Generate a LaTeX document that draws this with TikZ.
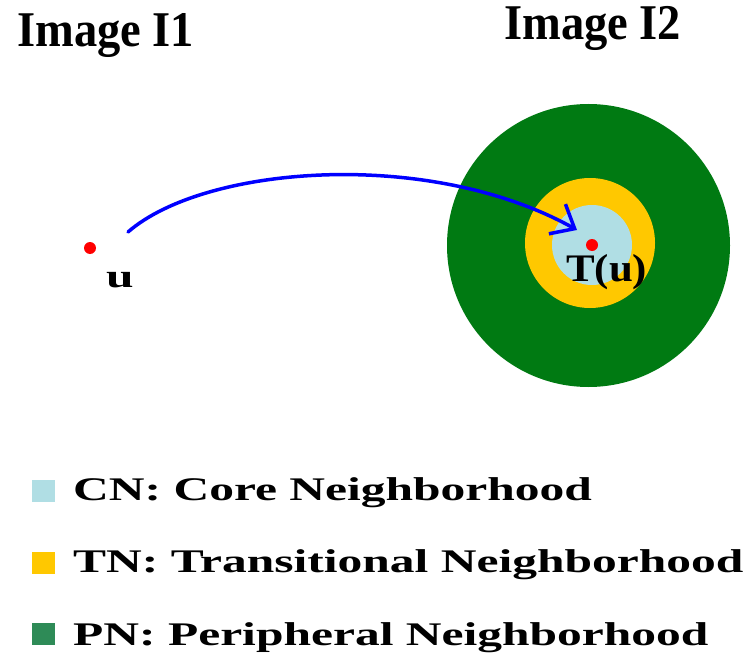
\documentclass[tikz,border=0pt]{standalone}
\usepackage{fontspec}
\setmainfont{Liberation Serif}
\newfontfamily\titlefont[FakeStretch=0.93]{Liberation Serif}
\newfontfamily\legfont[FakeStretch=1.5]{Liberation Serif}
\newfontfamily\tufont[FakeStretch=1.1]{Liberation Serif}
\usetikzlibrary{arrows.meta}
\definecolor{pngreen}{RGB}{0,122,18}
\definecolor{tnyellow}{RGB}{255,200,0}
\definecolor{cnblue}{RGB}{176,222,228}
\definecolor{leggreen}{RGB}{46,139,87}
\definecolor{arrowblue}{RGB}{0,0,255}
\begin{document}
\begin{tikzpicture}[x=1pt,y=-1pt,
  title/.style={anchor=base west,inner sep=0pt,font=\titlefont\bfseries\fontsize{50}{56}\selectfont},
  legtext/.style={anchor=base west,inner sep=0pt,font=\legfont\bfseries\fontsize{33}{38}\selectfont},
  legsq/.style={minimum width=23pt,minimum height=22pt,inner sep=0pt,anchor=north west},
  reddot/.style={circle,fill=red,minimum size=12pt,inner sep=0pt},
  maparrow/.style={draw=arrowblue,line width=3.5pt,line cap=round,-{Straight Barb[length=20pt,width=34pt,line width=3.5pt]}}]
\useasboundingbox (0,0) rectangle (755,658);
% titles
\node[title] (t1) at (17,47) {Image I1};
\node[title] (t2) at (504,40) {Image I2};
% neighborhoods
\fill[pngreen] (588.5,245.5) circle[radius=141.5];
\fill[tnyellow] (590,243) circle[radius=65];
\fill[cnblue] (592,245) circle[radius=40];
% points
\node[reddot] (u) at (90,248) {};
\node[anchor=base west,inner sep=0pt,font=\legfont\bfseries\fontsize{33}{36}\selectfont] (ul) at (106,287) {u};
\node[reddot] (tu) at (592,245) {};
\node[anchor=base west,inner sep=0pt,font=\tufont\bfseries\fontsize{39}{44}\selectfont] (tul) at (566,281) {T(u)};
% mapping arrow
\coordinate (start) at (128,232);
\coordinate (tip) at (577,230);
\draw[maparrow] (start) .. controls (205,165) and (430,148) .. (tip);
% legend
\node[legsq,fill=cnblue] (s1) at (32,480) {};
\node[legtext] (l1) at (73,500) {CN: Core Neighborhood};
\node[legsq,fill=tnyellow] (s2) at (32,552) {};
\node[legtext] (l2) at (73,572) {TN: Transitional Neighborhood};
\node[legsq,fill=leggreen] (s3) at (32,623) {};
\node[legtext] (l3) at (73,645) {PN: Peripheral Neighborhood};
\end{tikzpicture}
\end{document}
